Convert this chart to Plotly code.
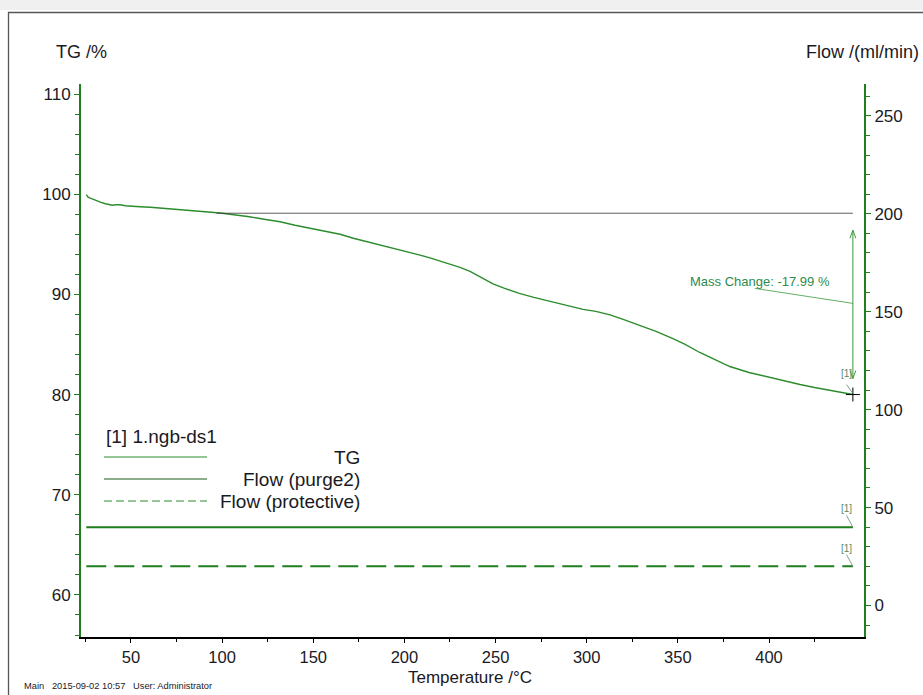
import plotly.graph_objects as go

# ---- data ----
temp_tg = [25.5, 26.5, 27.7, 30, 33.2, 36, 39.8, 42, 44, 47, 49.6, 55, 60.6, 68, 77, 83, 88, 94,
           100, 108, 115, 123, 131.8, 140, 150, 157, 164.7, 172, 181, 190, 200, 207, 214, 222,
           230.5, 236, 240, 242, 245, 248.6, 255, 263, 271, 280, 289, 298, 305, 312.8, 320,
           329, 338, 347, 354, 362, 370, 378.5, 389, 400, 408, 417, 425, 433.3, 440, 446]
tg = [99.95, 99.7, 99.6, 99.4, 99.2, 99.05, 98.9, 98.95, 98.95, 98.85, 98.8, 98.75, 98.7, 98.6, 98.5,
      98.4, 98.3, 98.2, 98.1, 97.95, 97.75, 97.5, 97.25, 96.9, 96.55, 96.25, 96.0, 95.6, 95.2, 94.8,
      94.35, 94.0, 93.65, 93.2, 92.7, 92.3, 91.9, 91.75, 91.45, 91.05, 90.6, 90.1, 89.7, 89.3,
      88.9, 88.5, 88.3, 87.95, 87.5, 86.9, 86.3, 85.6, 85.0, 84.2, 83.5, 82.8, 82.2, 81.7, 81.4,
      81.0, 80.7, 80.4, 80.2, 80.0]

flow_x = [25.5, 446]
flow_purge = [40, 40]
flow_protective = [20, 20]

ref_x = [97, 446]
ref_level = [98.1, 98.1]

mass_change_text = "Mass Change: -17.99 %"
x_ticks = [50, 100, 150, 200, 250, 300, 350, 400]
x_minor = [25, 75, 125, 175, 225, 275, 325, 375, 425]
y_ticks = [60, 70, 80, 90, 100, 110]
y_minor = [56, 58, 62, 64, 66, 68, 72, 74, 76, 78, 82, 84, 86, 88, 92, 94, 96, 98, 102, 104, 106, 108]
y2_ticks = [0, 50, 100, 150, 200, 250]
y2_minor = [-10, 10, 20, 30, 40, 60, 70, 80, 90, 110, 120, 130, 140, 160, 170, 180, 190,
            210, 220, 230, 240, 260]

# ---- layout geometry ----
W, H = 923, 695
L, R, T, B = 81, 59, 84, 58
PW, PH = W - L - R, H - T - B


def px(x):
    return (x - L) / PW


def py(y):
    return (H - B - y) / PH


GREEN = "#1f7f1f"
LGREEN = "#3a9a3a"
FONT = "Liberation Sans, Arial, sans-serif"
TXT = "#1a1a24"

fig = go.Figure()

fig.add_trace(go.Scatter(x=temp_tg, y=tg, mode="lines",
                         line=dict(color="#2c8c2c", width=1.4), showlegend=False))
fig.add_trace(go.Scatter(x=ref_x, y=ref_level, mode="lines",
                         line=dict(color="#333333", width=0.8), showlegend=False))
fig.add_trace(go.Scatter(x=flow_x, y=flow_purge, mode="lines", yaxis="y2",
                         line=dict(color=GREEN, width=2), showlegend=False))
fig.add_trace(go.Scatter(x=flow_x, y=flow_protective, mode="lines", yaxis="y2",
                         line=dict(color=GREEN, width=2, dash="20px,8px"), showlegend=False))
fig.add_trace(go.Scatter(x=[temp_tg[-1]], y=[tg[-1]], mode="markers",
                         marker=dict(symbol="cross-thin", size=10,
                                     line=dict(color="black", width=1)),
                         showlegend=False))

shapes = []
# outer frame
shapes.append(dict(type="rect", xref="paper", yref="paper", x0=px(0), x1=px(923), y0=py(0), y1=py(10),
                   fillcolor="#f0f0f0", line=dict(width=0), layer="below"))
shapes.append(dict(type="rect", xref="paper", yref="paper", x0=px(8.5), x1=px(930), y0=py(700), y1=py(12.5),
                   line=dict(color="#555555", width=1.3), fillcolor="rgba(0,0,0,0)", layer="below"))

# mass-change arrow
top_y, bot_y = 96.4, 81.6
arrow_x = temp_tg[-1]
shapes.append(dict(type="line", x0=arrow_x, x1=arrow_x, y0=top_y, y1=bot_y,
                   line=dict(color=LGREEN, width=1)))
for yy, s in ((top_y, -1), (bot_y, 1)):
    shapes.append(dict(type="line", x0=arrow_x - 1.6, x1=arrow_x, y0=yy + s * 0.8, y1=yy,
                       line=dict(color=LGREEN, width=1)))
    shapes.append(dict(type="line", x0=arrow_x + 1.6, x1=arrow_x, y0=yy + s * 0.8, y1=yy,
                       line=dict(color=LGREEN, width=1)))
# leader to label
shapes.append(dict(type="line", x0=392.2, x1=arrow_x, y0=90.6, y1=89.1,
                   line=dict(color=LGREEN, width=0.8)))
# [1] leaders
shapes.append(dict(type="line", x0=442.5, x1=arrow_x, y0=81.0, y1=80.1,
                   line=dict(color="#5a8a6a", width=0.8)))
shapes.append(dict(type="line", x0=442.5, x1=arrow_x, y0=46, y1=40, yref="y2",
                   line=dict(color="#5a8a6a", width=0.8)))
shapes.append(dict(type="line", x0=442.5, x1=arrow_x, y0=26, y1=20, yref="y2",
                   line=dict(color="#5a8a6a", width=0.8)))

# legend lines
shapes.append(dict(type="line", xref="paper", yref="paper", x0=px(104), x1=px(207), y0=py(457), y1=py(457),
                   line=dict(color="#2c8c2c", width=1)))
shapes.append(dict(type="line", xref="paper", yref="paper", x0=px(104), x1=px(207), y0=py(479), y1=py(479),
                   line=dict(color="#1a5a1a", width=1)))
shapes.append(dict(type="line", xref="paper", yref="paper", x0=px(104), x1=px(207), y0=py(501), y1=py(501),
                   line=dict(color="#2c8c2c", width=1, dash="8px,4px")))

annotations = [
    dict(xref="paper", yref="paper", x=px(54), y=py(52), text="TG /%", showarrow=False,
         xanchor="left", yanchor="middle", font=dict(size=18, color=TXT, family=FONT)),
    dict(xref="paper", yref="paper", x=px(921), y=py(52), text="Flow /(ml/min)", showarrow=False,
         xanchor="right", yanchor="middle", font=dict(size=18, color=TXT, family=FONT)),
    dict(xref="paper", yref="paper", x=px(470), y=py(677), text="Temperature /°C", showarrow=False,
         xanchor="center", yanchor="middle", font=dict(size=17, color=TXT, family=FONT)),
    dict(xref="paper", yref="paper", x=px(22), y=py(686),
         text="Main&nbsp;&nbsp;&nbsp;2015-09-02 10:57&nbsp;&nbsp;&nbsp;User: Administrator",
         showarrow=False, xanchor="left", yanchor="middle", font=dict(size=9.3, color=TXT, family=FONT)),
    dict(x=355.4, y=91.3, text=mass_change_text, showarrow=False, xanchor="left", yanchor="middle",
         font=dict(size=13, color="#2e8b4e", family=FONT)),
    dict(x=442.5, y=81.4, text="[1]", showarrow=False, xanchor="center", yanchor="bottom",
         font=dict(size=10, color="#5a8a6a", family=FONT)),
    dict(x=442.5, y=45.5, yref="y2", text="[1]", showarrow=False, xanchor="center", yanchor="bottom",
         font=dict(size=10, color="#5a8a6a", family=FONT)),
    dict(x=442.5, y=25.5, yref="y2", text="[1]", showarrow=False, xanchor="center", yanchor="bottom",
         font=dict(size=10, color="#5a8a6a", family=FONT)),
    dict(xref="paper", yref="paper", x=px(104), y=py(437), text="[1] 1.ngb-ds1", showarrow=False,
         xanchor="left", yanchor="middle", font=dict(size=19, color=TXT, family=FONT)),
    dict(xref="paper", yref="paper", x=px(362), y=py(457), text="TG", showarrow=False,
         xanchor="right", yanchor="middle", font=dict(size=19, color=TXT, family=FONT)),
    dict(xref="paper", yref="paper", x=px(362), y=py(479), text="Flow (purge2)", showarrow=False,
         xanchor="right", yanchor="middle", font=dict(size=19, color=TXT, family=FONT)),
    dict(xref="paper", yref="paper", x=px(362), y=py(501), text="Flow (protective)", showarrow=False,
         xanchor="right", yanchor="middle", font=dict(size=19, color=TXT, family=FONT)),
]

fig.update_layout(
    width=W, height=H,
    margin=dict(l=L, r=R, t=T, b=B, pad=0),
    paper_bgcolor="white", plot_bgcolor="white",
    font=dict(family=FONT, size=17, color=TXT),
    showlegend=False,
    xaxis=dict(range=[22.6, 452.1], tickmode="array", tickvals=x_ticks, showgrid=False, zeroline=False,
               showline=True, linecolor="black", linewidth=2, ticks="outside", ticklen=4,
               tickcolor="black", tickwidth=1, tickfont=dict(size=16.5, color=TXT),
               minor=dict(tickmode="array", tickvals=x_minor, ticks="outside", ticklen=3,
                          tickcolor="black", showgrid=False)),
    yaxis=dict(range=[55.8, 111.0], tickmode="array", tickvals=y_ticks, showgrid=False, zeroline=False,
               showline=True, linecolor=GREEN, linewidth=2, ticks="outside", ticklen=5,
               tickcolor=GREEN, tickwidth=1, tickfont=dict(size=17, color=TXT),
               minor=dict(tickmode="array", tickvals=y_minor, ticks="outside", ticklen=4,
                          tickcolor=GREEN, showgrid=False)),
    yaxis2=dict(range=[-16.1, 266.3], tickmode="array", tickvals=y2_ticks, overlaying="y", side="right",
                showgrid=False, zeroline=False, showline=True, linecolor=GREEN, linewidth=2,
                ticks="outside", ticklen=5, tickcolor=GREEN, tickwidth=1,
                tickfont=dict(size=17, color=TXT),
                minor=dict(tickmode="array", tickvals=y2_minor, ticks="outside", ticklen=4,
                           tickcolor=GREEN, showgrid=False)),
    shapes=shapes,
    annotations=annotations,
)

fig.write_html("out.html")
